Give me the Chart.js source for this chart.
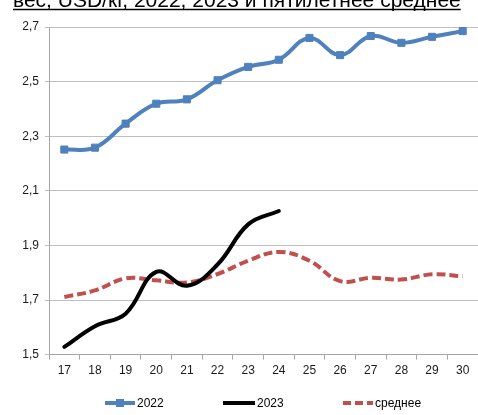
<!DOCTYPE html>
<html>
<head>
<meta charset="utf-8">
<script src="https://cdn.jsdelivr.net/npm/chart.js@4"></script>
<style>
  html, body { margin: 0; padding: 0; background: #fff; overflow: hidden; width: 478px; height: 415px; }
  #wrap { position: absolute; left: 0; top: 0; width: 484px; height: 415px; }
</style>
</head>
<body>
<div id="wrap"><canvas id="c" width="484" height="415"></canvas></div>
<script>
const titleText = 'вес, USD/кг, 2022, 2023 и пятилетнее среднее';
const categories = ['17','18','19','20','21','22','23','24','25','26','27','28','29','30'];
const values2022 = [2.251, 2.258, 2.346, 2.419, 2.435, 2.505, 2.554, 2.580, 2.660, 2.597, 2.667, 2.642, 2.664, 2.685];
const values2023 = [1.528, 1.604, 1.650, 1.803, 1.752, 1.830, 1.977, 2.026, null, null, null, null, null, null];
const valuesAvg  = [1.711, 1.735, 1.779, 1.772, 1.764, 1.795, 1.844, 1.876, 1.844, 1.769, 1.781, 1.775, 1.794, 1.787];
const seriesNames = ['2022', '2023', 'среднее'];
const yTicks = [1.5, 1.7, 1.9, 2.1, 2.3, 2.5, 2.7];

const BLUE = '#4f81bd', RED = '#c0504d', BLACK = '#000000';
const FONT = '"Liberation Sans", Arial, sans-serif';

const overlay = {
  id: 'overlay',
  afterDraw(chart) {
    const ctx = chart.ctx;
    ctx.save();
    // clipped title with underline
    ctx.font = '21px ' + FONT;
    ctx.fillStyle = '#000';
    ctx.textBaseline = 'alphabetic';
    ctx.textAlign = 'left';
    ctx.fillText(titleText, 13, 7);
    const w = ctx.measureText(titleText).width;
    ctx.strokeStyle = '#000';
    ctx.lineWidth = 1.5;
    ctx.beginPath();
    ctx.moveTo(13, 9.5);
    ctx.lineTo(13 + w, 9.5);
    ctx.stroke();

    // legend
    const ly = 403;
    const items = [
      {x1: 105, x2: 135, color: BLUE, dash: [], marker: true, label: seriesNames[0]},
      {x1: 223, x2: 255, color: BLACK, dash: [], marker: false, label: seriesNames[1]},
      {x1: 343, x2: 373, color: RED, dash: [8, 4], marker: false, label: seriesNames[2]},
    ];
    items.forEach(it => {
      ctx.strokeStyle = it.color;
      ctx.lineWidth = 4;
      ctx.setLineDash(it.dash);
      ctx.lineCap = 'butt';
      ctx.beginPath();
      ctx.moveTo(it.x1, ly);
      ctx.lineTo(it.x2, ly);
      ctx.stroke();
      ctx.setLineDash([]);
      if (it.marker) {
        ctx.fillStyle = it.color;
        ctx.fillRect((it.x1 + it.x2) / 2 - 4, ly - 4, 8, 8);
      }
      ctx.fillStyle = '#000';
      ctx.font = '12px ' + FONT;
      ctx.textBaseline = 'middle';
      ctx.fillText(it.label, it.x2 + 2, ly + 1);
    });
    ctx.restore();
  }
};

new Chart(document.getElementById('c'), {
  type: 'line',
  data: {
    labels: categories,
    datasets: [
      {
        label: seriesNames[0], data: values2022,
        borderColor: BLUE, backgroundColor: BLUE, borderWidth: 4,
        pointStyle: 'rect', pointRadius: 5, pointBorderWidth: 1, pointBorderColor: BLUE, pointBackgroundColor: BLUE,
        tension: 0.4, fill: false, order: 3
      },
      {
        label: seriesNames[1], data: values2023,
        borderColor: BLACK, backgroundColor: BLACK, borderWidth: 4, borderCapStyle: 'round',
        pointRadius: 0, tension: 0.4, fill: false, spanGaps: false, order: 1
      },
      {
        label: seriesNames[2], data: valuesAvg,
        borderColor: RED, backgroundColor: RED, borderWidth: 4, borderDash: [9, 4],
        pointRadius: 0, tension: 0.4, fill: false, order: 2
      }
    ]
  },
  options: {
    responsive: false,
    animation: false,
    devicePixelRatio: 1,
    layout: { padding: { top: 27, right: 1, bottom: 33, left: 0 } },
    plugins: { legend: { display: false }, title: { display: false }, tooltip: { enabled: false } },
    scales: {
      x: {
        offset: true,
        grid: { offset: true, drawOnChartArea: false, drawTicks: true, tickLength: 5, color: '#a6a6a6', lineWidth: 1 },
        border: { display: true, color: '#a6a6a6', width: 1 },
        ticks: { color: '#1a1a1a', font: { family: FONT, size: 12 }, padding: 4, maxRotation: 0, autoSkip: false }
      },
      y: {
        min: 1.5, max: 2.7,
        afterFit(scale) { scale.width = 49; },
        afterBuildTicks(scale) { scale.ticks = yTicks.map(v => ({ value: v })); },
        grid: { color: '#bfbfbf', lineWidth: 1, drawTicks: true, tickLength: 4 },
        border: { display: true, color: '#a6a6a6', width: 1 },
        ticks: {
          color: '#1a1a1a', font: { family: FONT, size: 12 }, padding: 6,
          callback: v => v.toFixed(1).replace('.', ',')
        }
      }
    }
  },
  plugins: [overlay]
});
</script>
</body>
</html>
